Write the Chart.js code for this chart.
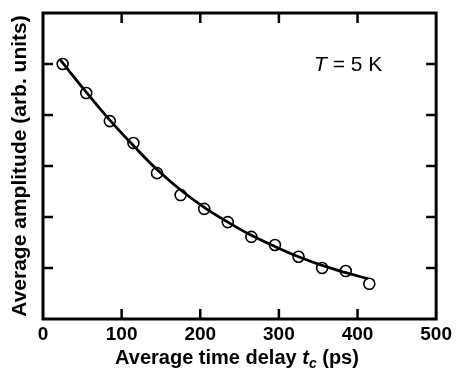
<!DOCTYPE html>
<html>
<head>
<meta charset="utf-8">
<script src="https://cdn.jsdelivr.net/npm/chart.js@4"></script>
<style>
  html, body { margin: 0; padding: 0; background: #fff; }
  #wrap { width: 456px; height: 369px; }
</style>
</head>
<body>
<div id="wrap"><canvas id="chart"></canvas></div>
<script>
// Measured points (open circles)
const delayPs = [25, 55, 85, 115, 145, 175, 205, 235, 265, 295, 325, 355, 385, 415];
const amplitude = [5.0, 4.43, 3.88, 3.45, 2.86, 2.43, 2.16, 1.9, 1.61, 1.45, 1.22, 1.0, 0.94, 0.69];

// Fit curve
const fitDelay = [22, 55, 85, 115, 145, 175, 205, 235, 265, 295, 325, 355, 385, 413];
const fitAmp = [5.08, 4.45, 3.9, 3.4, 2.93, 2.53, 2.19, 1.9, 1.64, 1.42, 1.22, 1.05, 0.91, 0.79];

const xTicks = [0, 100, 200, 300, 400, 500];
const yTicks = [0, 1, 2, 3, 4, 5, 6];

const FONT = "'Liberation Sans', Arial, Helvetica, sans-serif";

// Box, inward ticks, axis titles and the T = 5 K label
const framePlugin = {
  id: "frame",
  afterDraw(chart) {
    const ctx = chart.ctx;
    const a = chart.chartArea;
    const xs = chart.scales.x;
    const ys = chart.scales.y;
    ctx.save();
    ctx.strokeStyle = "#000";
    ctx.lineWidth = 2.5;
    ctx.lineCap = "butt";
    ctx.beginPath();
    xTicks.slice(1, -1).forEach((v) => {
      const px = xs.getPixelForValue(v);
      ctx.moveTo(px, a.bottom);
      ctx.lineTo(px, a.bottom - 10);
      ctx.moveTo(px, a.top);
      ctx.lineTo(px, a.top + 10);
    });
    yTicks.slice(1, -1).forEach((v) => {
      const py = ys.getPixelForValue(v);
      ctx.moveTo(a.left, py);
      ctx.lineTo(a.left + 10, py);
      ctx.moveTo(a.right, py);
      ctx.lineTo(a.right - 10, py);
    });
    ctx.stroke();
    ctx.lineWidth = 3;
    ctx.strokeRect(a.left, a.top, a.right - a.left, a.bottom - a.top);

    ctx.fillStyle = "#000";
    ctx.textBaseline = "alphabetic";

    // x title with italic t and subscript c
    const parts = [
      { t: "Average time delay ", f: "bold 20px " + FONT, dy: 0 },
      { t: "t", f: "italic bold 20px " + FONT, dy: 0 },
      { t: "c", f: "italic bold 14px " + FONT, dy: 4 },
      { t: " (ps)", f: "bold 20px " + FONT, dy: 0 },
    ];
    let total = 0;
    parts.forEach((p) => {
      ctx.font = p.f;
      p.w = ctx.measureText(p.t).width;
      total += p.w;
    });
    let x = 237 - total / 2;
    parts.forEach((p) => {
      ctx.font = p.f;
      ctx.fillText(p.t, x, 364 + p.dy);
      x += p.w;
    });

    // y title
    ctx.save();
    ctx.translate(26, (a.top + a.bottom) / 2);
    ctx.rotate(-Math.PI / 2);
    ctx.font = "bold 21px " + FONT;
    ctx.textAlign = "center";
    ctx.fillText("Average amplitude (arb. units)", 0, 0);
    ctx.restore();

    // T = 5 K
    ctx.font = "italic 21px " + FONT;
    ctx.fillText("T", 314, 71);
    const tw = ctx.measureText("T").width;
    ctx.font = "21px " + FONT;
    ctx.fillText(" = 5 K", 314 + tw, 71);
    ctx.restore();
  },
};

new Chart(document.getElementById("chart"), {
  type: "scatter",
  data: {
    datasets: [
      {
        label: "fit",
        type: "line",
        data: fitDelay.map((d, i) => ({ x: d, y: fitAmp[i] })),
        borderColor: "#000",
        borderWidth: 2.8,
        pointRadius: 0,
        tension: 0.4,
        fill: false,
        order: 0,
      },
      {
        label: "data",
        data: delayPs.map((d, i) => ({ x: d, y: amplitude[i] })),
        borderColor: "#000",
        backgroundColor: "rgba(0,0,0,0)",
        borderWidth: 1.6,
        pointRadius: 5.5,
        order: 1,
      },
    ],
  },
  options: {
    responsive: true,
    maintainAspectRatio: false,
    animation: false,
    layout: { padding: { top: 13, right: 18, left: 0, bottom: 0 } },
    plugins: {
      legend: { display: false },
      tooltip: { enabled: false },
    },
    scales: {
      x: {
        type: "linear",
        min: 0,
        max: 500,
        afterBuildTicks: (s) => { s.ticks = xTicks.map((v) => ({ value: v })); },
        afterFit: (s) => { s.height = 50; },
        ticks: {
          color: "#000",
          font: { family: FONT, size: 19, weight: "bold" },
          padding: 4,
          maxRotation: 0,
        },
        grid: { display: false, drawTicks: false },
        border: { display: false },
      },
      y: {
        min: 0,
        max: 6,
        afterBuildTicks: (s) => { s.ticks = yTicks.map((v) => ({ value: v })); },
        afterFit: (s) => { s.width = 43; },
        ticks: { display: false },
        grid: { display: false, drawTicks: false },
        border: { display: false },
      },
    },
  },
  plugins: [framePlugin],
});
</script>
</body>
</html>
